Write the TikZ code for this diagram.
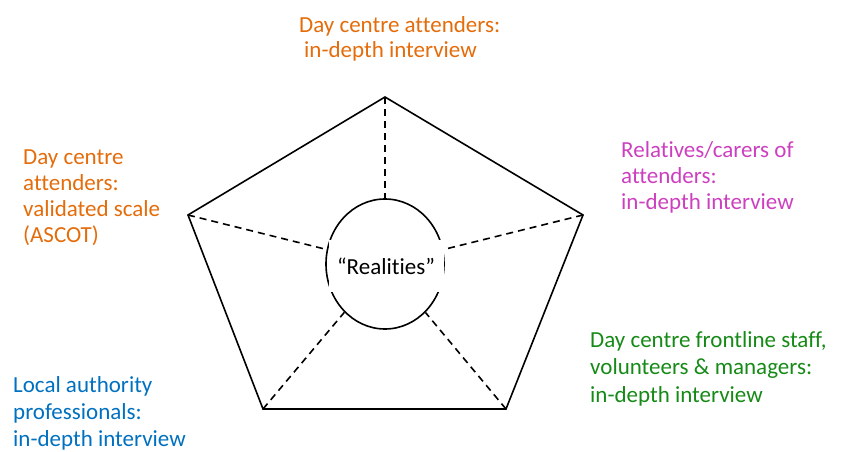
\documentclass[tikz,border=0pt]{standalone}
\usepackage{fontspec}
\setmainfont[Ligatures={NoCommon}]{Carlito}
\usetikzlibrary{shapes.geometric}
\definecolor{corange}{RGB}{228,108,10}
\definecolor{cmagenta}{RGB}{204,64,192}
\definecolor{cgreen}{RGB}{22,138,22}
\definecolor{cblue}{RGB}{0,112,192}
\begin{document}
\begin{tikzpicture}[x=1pt,y=-1pt,
  lbl/.style={anchor=north west,inner sep=0pt,align=left},
  spoke/.style={draw,line width=1.6pt,dash pattern=on 7pt off 5pt},
  edge/.style={draw,line width=1.6pt,line join=miter}]
\useasboundingbox (0,0) rectangle (841,452);
\coordinate (T) at (385,97);
\coordinate (R) at (583,215);
\coordinate (BR) at (506,409);
\coordinate (BL) at (263,409);
\coordinate (L) at (188,215);
\draw[edge] (T) -- (R) -- (BR) -- (BL) -- (L) -- cycle;
\node[ellipse,draw,line width=1.6pt,minimum width=118pt,minimum height=130pt,inner sep=0pt] (c) at (385,264) {};
\node[rectangle,fill=white,inner sep=0pt,minimum width=115pt,minimum height=52pt,font=\fontsize{23}{26}\selectfont] (real) at (386,266) {“Realities”};
\draw[spoke] (T) -- (c);
\draw[spoke] (R) -- (c);
\draw[spoke] (BR) -- (c);
\draw[spoke] (BL) -- (c);
\draw[spoke] (L) -- (c);
\node[lbl,text=corange,font=\fontsize{23}{25.5}\selectfont] (top) at (299,16) {Day centre attenders:\\\hspace*{5pt}in-depth interview};
\node[lbl,text=corange,font=\fontsize{23}{26}\selectfont] (left) at (23,150) {Day centre\\attenders:\\validated scale\\(ASCOT)};
\node[lbl,text=cmagenta,font=\fontsize{23}{26.3}\selectfont] (right) at (621,141) {Relatives/carers of\\attenders:\\in-depth interview};
\node[lbl,text=cgreen,font=\fontsize{23}{27.5}\selectfont] (brl) at (590,331) {Day centre frontline staff,\\volunteers \& managers:\\in-depth interview};
\node[lbl,text=cblue,font=\fontsize{23}{27.3}\selectfont] (bll) at (13,376) {Local authority\\professionals:\\in-depth interview};
\end{tikzpicture}
\end{document}
